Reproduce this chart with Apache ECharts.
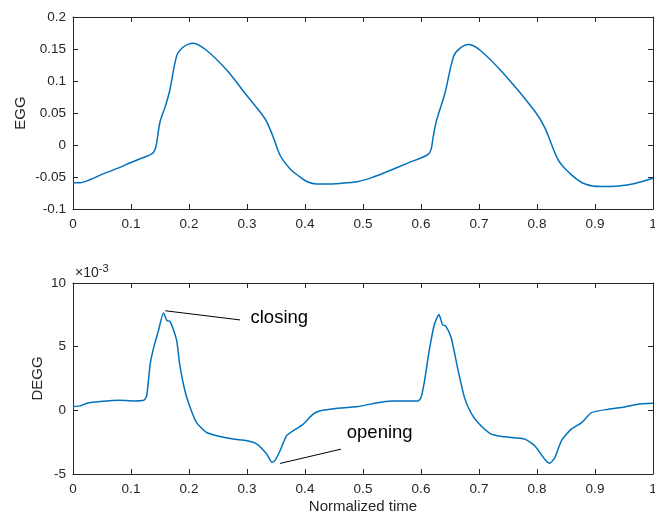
<!DOCTYPE html>
<html><head><meta charset="utf-8">
<script src="https://cdn.jsdelivr.net/npm/echarts@6/dist/echarts.min.js"></script>
<style>html,body{margin:0;padding:0;background:#fff}#c{width:655px;height:514px}</style>
</head><body><div id="c"></div>
<script>
var eggT = [0,0.012,0.03,0.047,0.075,0.101,0.12,0.136,0.141,0.144,0.15,0.159,0.167,0.179,0.19,0.2,0.207,0.23,0.265,0.299,0.331,0.345,0.357,0.374,0.39,0.403,0.42,0.434,0.46,0.492,0.515,0.538,0.578,0.61,0.617,0.621,0.627,0.641,0.656,0.667,0.682,0.702,0.745,0.797,0.814,0.837,0.86,0.883,0.911,0.94,0.969,1.0];
var eggV = [-0.059,-0.059,-0.054,-0.047,-0.037,-0.027,-0.02,-0.014,-0.008,0.002,0.036,0.06,0.086,0.14,0.153,0.158,0.159,0.148,0.117,0.078,0.041,0.013,-0.016,-0.037,-0.049,-0.057,-0.061,-0.061,-0.06,-0.057,-0.051,-0.043,-0.028,-0.016,-0.008,0.013,0.039,0.08,0.138,0.151,0.157,0.148,0.109,0.052,0.026,-0.024,-0.047,-0.061,-0.065,-0.064,-0.06,-0.052];
var deggT = [0,0.012,0.024,0.047,0.081,0.104,0.122,0.127,0.133,0.139,0.147,0.156,0.162,0.167,0.173,0.179,0.184,0.193,0.202,0.213,0.23,0.248,0.276,0.3,0.317,0.334,0.343,0.348,0.357,0.368,0.38,0.397,0.414,0.426,0.443,0.492,0.52,0.549,0.595,0.6,0.606,0.614,0.623,0.631,0.637,0.643,0.652,0.663,0.675,0.686,0.698,0.721,0.744,0.779,0.796,0.813,0.822,0.831,0.842,0.859,0.877,0.894,0.923,0.951,0.974,1.0];
var deggV = [0.30,0.35,0.56,0.69,0.79,0.74,0.79,1.13,3.6,4.9,6.2,7.65,7.05,7.0,6.35,5.43,3.6,1.52,0.22,-0.96,-1.74,-2.0,-2.26,-2.39,-2.65,-3.43,-4.09,-3.95,-3.17,-2.0,-1.6,-1.08,-0.30,-0.04,0.09,0.30,0.56,0.74,0.74,1.0,2.3,4.65,6.74,7.52,6.74,6.6,5.7,3.35,1.0,-0.18,-0.96,-1.87,-2.08,-2.26,-2.78,-3.82,-4.16,-3.7,-2.39,-1.48,-0.96,-0.18,0.09,0.27,0.48,0.56];
var xTicks = [0,0.1,0.2,0.3,0.4,0.5,0.6,0.7,0.8,0.9,1];
var eggTicks = [-0.1,-0.05,0,0.05,0.1,0.15,0.2];
var deggTicks = [-5,0,5,10];
var closingAt = [[0.159,7.82],[0.288,7.1]];
var openingAt = [[0.357,-4.17],[0.462,-3.05]];
var closingLabel = [0.306,7.27];
var openingLabel = [0.472,-1.81];

function pair(t,v){return t.map(function(x,i){return [x,v[i]];});}
var F = 'Liberation Sans, Arial, Helvetica, sans-serif';
var AX = '#262626';
function xAx(grid, pos, labels, name){
  return {type:'value', gridIndex:grid, position:pos, min:xTicks[0], max:xTicks[xTicks.length-1], interval:0.1,
    axisLine:{show:true,onZero:false,lineStyle:{color:AX,width:1}},
    axisTick:{show:true,inside:true,length:5,lineStyle:{color:AX}},
    axisLabel:{show:labels,color:AX,fontSize:13.5,fontFamily:F,margin:8,
      formatter:function(v){return String(Math.round(v*10)/10);}},
    splitLine:{show:false},
    name:name||'', nameLocation:'middle', nameGap:25, nameMoveOverlap:false,
    nameTextStyle:{color:AX,fontSize:15,fontFamily:F}};
}
function yAx(grid, pos, labels, min, max, interval, name, gap, fmt){
  return {type:'value', gridIndex:grid, position:pos, min:min, max:max, interval:interval,
    axisLine:{show:true,onZero:false,lineStyle:{color:AX,width:1}},
    axisTick:{show:true,inside:true,length:5,lineStyle:{color:AX}},
    axisLabel:{show:labels,color:AX,fontSize:13.5,fontFamily:F,margin:7,formatter:fmt},
    splitLine:{show:false},
    name:name||'', nameLocation:'middle', nameGap:gap||0, nameRotate:90, nameMoveOverlap:false,
    nameTextStyle:{color:AX,fontSize:15,fontFamily:F}};
}
var chart = echarts.init(document.getElementById('c'), null, {renderer:'canvas'});
chart.setOption({
  animation:false,
  backgroundColor:'#fff',
  grid:[{left:73,top:17,width:580,height:192,outerBoundsMode:'none',containLabel:false},
        {left:73,top:283,width:580,height:191,outerBoundsMode:'none',containLabel:false}],
  xAxis:[xAx(0,'bottom',true), xAx(0,'top',false), xAx(1,'bottom',true,'Normalized time'), xAx(1,'top',false)],
  yAxis:[
    yAx(0,'left',true,eggTicks[0],eggTicks[eggTicks.length-1],0.05,'EGG',45,function(v){return String(Math.round(v*100)/100);}),
    yAx(0,'right',false,eggTicks[0],eggTicks[eggTicks.length-1],0.05),
    yAx(1,'left',true,deggTicks[0],deggTicks[deggTicks.length-1],5,'DEGG',28,function(v){return String(v);}),
    yAx(1,'right',false,deggTicks[0],deggTicks[deggTicks.length-1],5)
  ],
  graphic:[{type:'text', left:75, top:263, style:{
    text:'{a|×10}{b|-3}', fill:AX, font:'14px '+F,
    rich:{a:{fontSize:14,fontFamily:F,fill:AX,verticalAlign:'bottom'},b:{fontSize:11,fontFamily:F,fill:AX,verticalAlign:'top',padding:[0,0,6,0]}}}}],
  series:[
    {type:'line', xAxisIndex:0, yAxisIndex:0, data:pair(eggT,eggV), showSymbol:false, smooth:0.3,
      lineStyle:{color:'#0072BD',width:1.5}},
    {type:'line', xAxisIndex:2, yAxisIndex:2, data:pair(deggT,deggV), showSymbol:false, smooth:0.2,
      lineStyle:{color:'#0072BD',width:1.5},
      markLine:{silent:true, symbol:['none','none'], label:{show:false},
        lineStyle:{color:'#000',width:1,type:'solid'},
        data:[[{coord:closingAt[0]},{coord:closingAt[1]}],[{coord:openingAt[0]},{coord:openingAt[1]}]]},
      markPoint:{silent:true, symbol:'circle', symbolSize:0,
        label:{show:true, position:'right', distance:0, color:'#000', fontSize:18.5, fontFamily:F, formatter:'{b}'},
        data:[{name:'closing',coord:closingLabel},{name:'opening',coord:openingLabel}]}}
  ]
});
</script></body></html>
